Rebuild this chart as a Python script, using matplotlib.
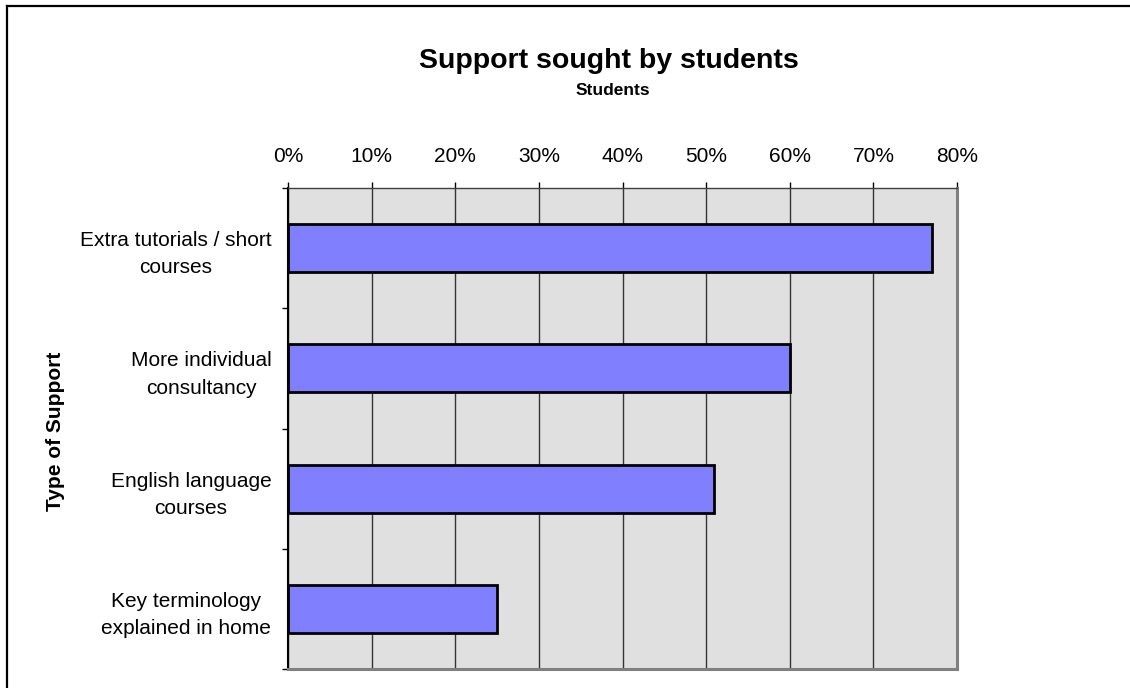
import numpy as np
import matplotlib.pyplot as plt
from matplotlib.lines import Line2D
from matplotlib.ticker import FixedLocator, NullFormatter, FuncFormatter

plt.rcParams["font.family"] = ["Liberation Sans", "DejaVu Sans"]

# share of students asking for each kind of support, in percent
support_types = [
    "Extra tutorials / short\ncourses",
    "More individual\nconsultancy",
    "English language\ncourses",
    "Key terminology\nexplained in home",
]
students_pct = [77, 60, 51, 25]
pct_ticks = [0, 10, 20, 30, 40, 50, 60, 70, 80]

fig = plt.figure(figsize=(11.3, 6.88), dpi=100)
ax = fig.add_axes([0.2549, 0.0276, 0.592, 0.6991])

ax.set_facecolor("#e0e0e0")
ax.set_axisbelow(True)

pos = np.arange(len(support_types)) + 0.5
ax.barh(pos, students_pct, height=0.4, color="#8080ff",
        edgecolor="black", linewidth=2)

ax.set_xlim(0, 80)
ax.set_ylim(len(support_types), 0)

# percent axis sits on top
ax.xaxis.tick_top()
ax.set_xticks(pct_ticks)
ax.xaxis.set_major_formatter(FuncFormatter(lambda v, p: f"{v:.0f}%"))
ax.tick_params(axis="x", direction="out", length=4, width=1, pad=12,
               labelsize=15, color="black")
ax.xaxis.grid(True, color="#333333", linewidth=1)

# category ticks between bars, labels centred on the bars
ax.yaxis.set_major_locator(FixedLocator(np.arange(len(support_types) + 1)))
ax.yaxis.set_major_formatter(NullFormatter())
ax.yaxis.set_minor_locator(FixedLocator(pos))
ax.set_yticklabels(support_types, minor=True)
ax.tick_params(axis="y", which="major", direction="out", length=4, width=1,
               color="black")
ax.tick_params(axis="y", which="minor", length=0, pad=12, labelsize=15)
for lab in ax.get_yticklabels(minor=True):
    lab.set_multialignment("center")
    lab.set_linespacing(1.55)

ax.spines["left"].set_color("black")
ax.spines["left"].set_linewidth(1.5)
ax.spines["top"].set_color("#404040")
ax.spines["top"].set_linewidth(1)
for side in ("right", "bottom"):
    ax.spines[side].set_color("#808080")
    ax.spines[side].set_linewidth(2.2)

fig.text(0.5385, 0.912, "Support sought by students", ha="center",
         va="center", fontsize=20.5, fontweight="bold")
fig.text(0.5425, 0.869, "Students", ha="center", va="center",
         fontsize=12.5, fontweight="bold")
fig.text(0.0495, 0.3735, "Type of Support", rotation=90, ha="center",
         va="center", fontsize=15, fontweight="bold")

# outer frame around the figure (left and top edges)
fig.add_artist(Line2D([0.0062, 0.0062], [0.0, 0.9913], color="black",
                      linewidth=1.6, transform=fig.transFigure))
fig.add_artist(Line2D([0.0062, 1.0], [0.9913, 0.9913], color="black",
                      linewidth=1.6, transform=fig.transFigure))

fig.savefig("out.png", dpi=100)
